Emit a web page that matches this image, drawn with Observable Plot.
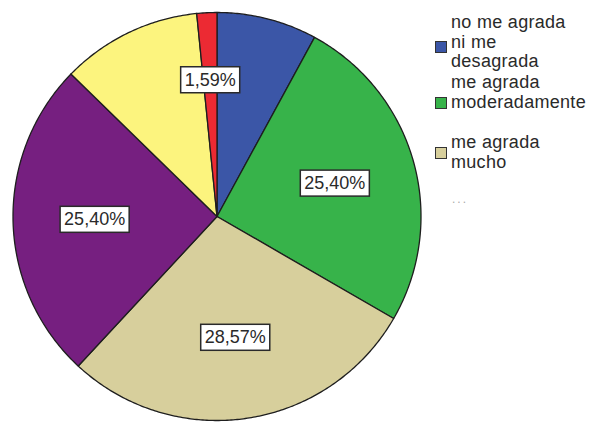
<!DOCTYPE html>
<html>
<head>
<meta charset="utf-8">
<script src="https://cdn.jsdelivr.net/npm/d3@7"></script>
<script src="https://cdn.jsdelivr.net/npm/@observablehq/plot@0.6"></script>
<style>
  body { margin: 0; background: #fff; }
  #wrap { position: relative; width: 591px; height: 423px; font-family: Arial, "Liberation Sans", sans-serif; }
  .leg-sw { position: absolute; width: 10px; height: 10px; border: 1px solid #333; }
  .leg-tx { position: absolute; font-size: 18px; line-height: 19.5px; color: #2a2a2a; white-space: nowrap; letter-spacing: 0.3px; }
</style>
</head>
<body>
<div id="wrap"></div>
<script>
// ---- data ----
const categories = ["no me agrada ni me desagrada", "me agrada moderadamente", "me agrada mucho", "categoría 4", "categoría 5", "categoría 6"];
const counts = [5, 16, 18, 16, 7, 1];
const labels = ["", "25,40%", "28,57%", "25,40%", "", "1,59%"];
const colors = ["#3b56a7", "#37b34a", "#d7cf9c", "#761f80", "#fcf47e", "#ec2a33"];
const legendLines = [["no me agrada", "ni me", "desagrada"], ["me agrada", "moderadamente"], ["me agrada", "mucho"]];

// ---- build ----
const table = categories.map((c, i) => ({category: c, count: counts[i], label: labels[i]}));
const arcs = d3.pie().sort(null).value(d => d.count)(table);

function pt(a, r) { return [r * Math.sin(a), -r * Math.cos(a)]; }

const slices = arcs.map(a => {
  const ring = [[0, 0]];
  const n = Math.max(2, Math.ceil((a.endAngle - a.startAngle) / 0.01));
  for (let k = 0; k <= n; k++) ring.push(pt(a.startAngle + (a.endAngle - a.startAngle) * k / n, 1));
  ring.push([0, 0]);
  return {type: "Feature", properties: a.data, geometry: {type: "Polygon", coordinates: [ring]}};
});

const circle = [];
for (let k = 0; k <= 360; k++) circle.push(pt(k * Math.PI / 180, 1));
const domain = {type: "Polygon", coordinates: [circle]};

const labelPts = arcs.filter(a => a.data.label).map(a => {
  const mid = (a.startAngle + a.endAngle) / 2;
  const share = a.data.count / d3.sum(counts);
  const r = share < 0.05 ? 0.67 : 0.6;
  const [x, y] = pt(mid, r);
  return {x, y, label: a.data.label};
});

const chart = Plot.plot({
  width: 591,
  height: 423,
  marginLeft: 12.5,
  marginRight: 170.5,
  marginTop: 12,
  marginBottom: 3,
  projection: {type: "identity", domain},
  color: {domain: categories, range: colors},
  marks: [
    Plot.geo(slices, {fill: d => d.properties.category, stroke: "#1e1e1e", strokeWidth: 1.3}),
    Plot.text(labelPts, {x: "x", y: "y", text: "label", fontSize: 18, fill: "#2a2a2a", fontFamily: "Arial, 'Liberation Sans', sans-serif", className: "pie-lab"})
  ]
});

const wrap = document.getElementById("wrap");
wrap.appendChild(chart);

// boxes behind labels
d3.select(chart).selectAll("g.pie-lab text").each(function() {
  const b = this.getBBox();
  const padX = 4, padY = 4;
  const g = this.parentNode;
  const rect = document.createElementNS("http://www.w3.org/2000/svg", "rect");
  rect.setAttribute("x", b.x - padX);
  rect.setAttribute("y", b.y - padY + 1);
  rect.setAttribute("width", b.width + 2 * padX);
  rect.setAttribute("height", b.height + 2 * padY - 2);
  rect.setAttribute("fill", "#fff");
  rect.setAttribute("stroke", "#2a2a2a");
  rect.setAttribute("stroke-width", "1.5");
  if (this.getAttribute("transform")) rect.setAttribute("transform", this.getAttribute("transform"));
  g.insertBefore(rect, this);
});

// legend
const legTops = [13, 73, 133];
const swTops = [41, 97, 147];
legendLines.forEach((lines, i) => {
  const sw = document.createElement("div");
  sw.className = "leg-sw";
  sw.style.left = "435px";
  sw.style.top = swTops[i] + "px";
  sw.style.background = colors[i];
  wrap.appendChild(sw);
  const tx = document.createElement("div");
  tx.className = "leg-tx";
  tx.style.left = "451px";
  tx.style.top = legTops[i] + "px";
  tx.innerHTML = lines.join("<br>");
  wrap.appendChild(tx);
});
const more = document.createElement("div");
more.className = "leg-tx";
more.style.left = "452px";
more.style.top = "190px";
more.style.fontSize = "12px";
more.style.letterSpacing = "2px";
more.style.color = "#aaa";
more.textContent = "...";
wrap.appendChild(more);
</script>
</body>
</html>
